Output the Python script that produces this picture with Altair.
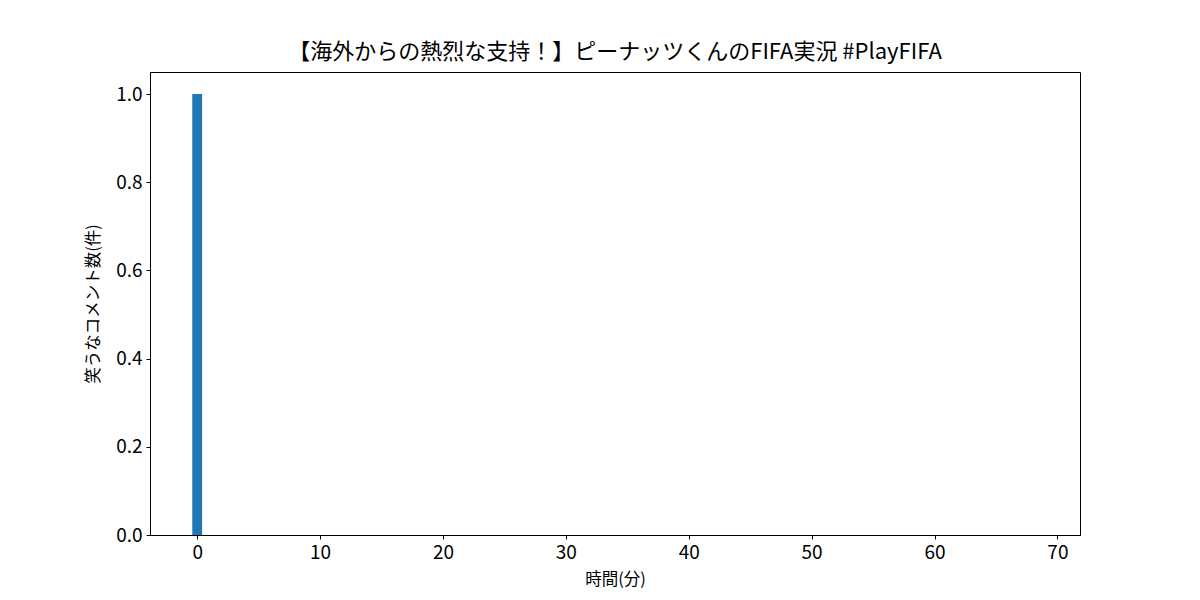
import altair as alt
import pandas as pd

# minutes 0..68, laugh-comment counts (only minute 0 has one)
minutes = list(range(0, 69))
counts = [1] + [0] * 68

title_text = "【海外からの熱烈な支持！】ピーナッツくんのFIFA実況 #PlayFIFA"
x_title = "時間(分)"
y_title = "笑うなコメント数(件)"

df = pd.DataFrame({"minute": minutes, "count": counts})
df["x0"] = df["minute"] - 0.4
df["x1"] = df["minute"] + 0.4

FONT = "Noto Sans CJK JP"

chart = alt.Chart(df).mark_bar(color="#1f77b4", cornerRadius=0).encode(
    x=alt.X("x0:Q", scale=alt.Scale(domain=[-3.84, 71.84], nice=False, zero=False),
            axis=alt.Axis(title=x_title, values=[0, 10, 20, 30, 40, 50, 60, 70], format="d",
                          grid=False, tickSize=4, labelFontSize=19, titleFontSize=16.5,
                          titleFontWeight="normal", labelPadding=4, titlePadding=9,
                          domainColor="black", tickColor="black", labelColor="black",
                          titleColor="black", labelFont=FONT, titleFont=FONT)),
    x2="x1:Q",
    y=alt.Y("count:Q", scale=alt.Scale(domain=[0, 1.05], nice=False),
            axis=alt.Axis(title=y_title, values=[0, 0.2, 0.4, 0.6, 0.8, 1.0], format=".1f",
                          grid=False, tickSize=4, labelFontSize=19, titleFontSize=16.5,
                          titleFontWeight="normal", labelPadding=4, titlePadding=14,
                          domainColor="black", tickColor="black", labelColor="black",
                          titleColor="black", labelFont=FONT, titleFont=FONT)),
    y2=alt.datum(0),
).properties(
    width=930,
    height=463,
    title=alt.TitleParams(title_text, font=FONT, fontSize=22, fontWeight="normal",
                          color="black", offset=8, anchor="middle"),
    autosize=alt.AutoSizeParams(type="none"),
    padding={"left": 150, "top": 72, "right": 120, "bottom": 65},
).configure(
    background="white",
    view=alt.ViewConfig(stroke="black", strokeWidth=1),
)

chart.save("out.html", embed_options={"renderer": "svg", "actions": False})
